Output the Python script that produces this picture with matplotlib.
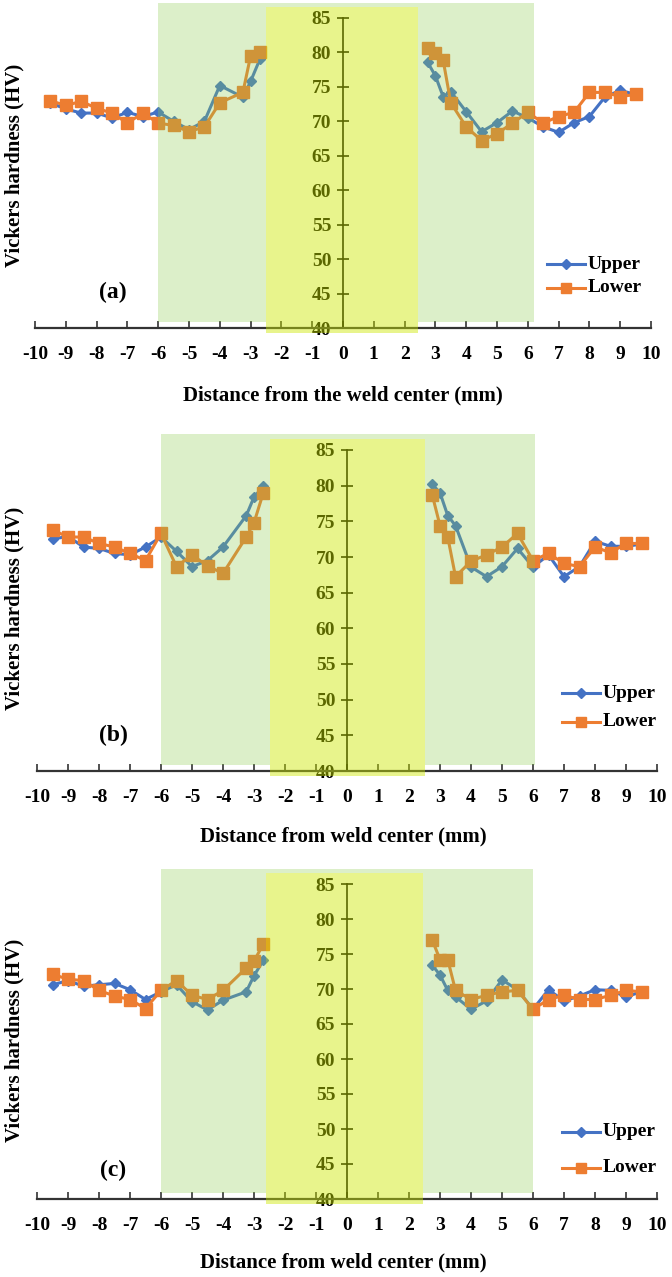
import matplotlib
matplotlib.use("Agg")
import matplotlib.pyplot as plt
from matplotlib.patches import Rectangle
from matplotlib.lines import Line2D

# ---------------- data ----------------
x_left = [-9.5, -9, -8.5, -8, -7.5, -7, -6.5, -6, -5.5, -5, -4.5, -4, -3.25, -3, -2.7]
x_right = [2.75, 3, 3.25, 3.5, 4, 4.5, 5, 5.5, 6, 6.5, 7, 7.5, 8, 8.5, 9, 9.5]

a_upper_left = [72.65, 71.8, 71.2, 71.2, 70.5, 71.3, 70.7, 71.35, 70.0, 68.8, 70.0, 75.2, 73.5, 75.8, 79.0]
a_lower_left = [73.0, 72.3, 72.9, 71.9, 71.2, 69.75, 71.2, 69.75, 69.4, 68.5, 69.2, 72.7, 74.2, 79.5, 80.1]
a_upper_right = [78.55, 76.6, 73.6, 74.3, 71.4, 68.5, 69.8, 71.5, 70.5, 69.2, 68.4, 69.8, 70.7, 73.5, 74.5, 73.9]
a_lower_right = [80.6, 79.9, 78.9, 72.7, 69.2, 67.2, 68.2, 69.75, 71.3, 69.75, 70.7, 71.3, 74.2, 74.2, 73.6, 73.9]

b_upper_left = [72.5, 72.9, 71.4, 71.2, 70.5, 70.3, 71.4, 72.8, 70.8, 68.65, 69.5, 71.4, 75.8, 78.4, 79.9]
b_lower_left = [73.8, 72.8, 72.8, 71.9, 71.4, 70.5, 69.5, 73.3, 68.65, 70.3, 68.75, 67.7, 72.8, 74.8, 79.0]
b_upper_right = [80.2, 79.0, 75.8, 74.4, 68.6, 67.25, 68.65, 71.2, 68.6, 70.3, 67.25, 68.65, 72.2, 71.5, 71.5, 71.8]
b_lower_right = [78.7, 74.4, 72.8, 67.25, 69.4, 70.3, 71.4, 73.3, 69.5, 70.5, 69.1, 68.65, 71.4, 70.6, 71.9, 71.9]

c_upper_left = [70.6, 71.2, 70.4, 70.6, 70.8, 69.9, 68.5, 69.6, 70.6, 68.2, 67.0, 68.4, 69.6, 71.9, 74.1]
c_lower_left = [72.1, 71.4, 71.2, 69.8, 69.0, 68.5, 67.2, 69.8, 71.2, 69.1, 68.5, 69.8, 73.0, 74.0, 76.4]
c_upper_right = [73.4, 72.0, 69.8, 68.9, 67.1, 68.3, 71.3, 69.9, 67.1, 69.9, 68.3, 69.0, 69.9, 69.8, 68.9, 69.6]
c_lower_right = [77.0, 74.2, 74.2, 69.8, 68.5, 69.1, 69.6, 69.8, 67.1, 68.5, 69.1, 68.5, 68.5, 69.1, 69.8, 69.6]

x_ticks = list(range(-10, 11))
y_ticks = list(range(40, 90, 5))
series_names = ["Upper", "Lower"]
panel_labels = ["(a)", "(b)", "(c)"]
x_titles = ["Distance from the weld center (mm)",
            "Distance from weld center (mm)",
            "Distance from weld center (mm)"]
y_title = "Vickers hardness (HV)"

# ---------------- style ----------------
W, H = 672, 1277
fig = plt.figure(figsize=(W / 100, H / 100), dpi=100)
SERIF = ['Liberation Serif', 'DejaVu Serif']
BLUE = '#4472C4'
ORANGE = '#ED7D31'


def fx(px):
    return px / W


def fy(py):
    return 1 - py / H


# panel geometry in pixels: (x px of -10, x px of 10, y px of 85, y px of 40)
geoms = [(35, 651, 18, 328), (37, 657, 450, 771), (37, 657, 884, 1199)]
panels = [
    (a_upper_left, a_lower_left, a_upper_right, a_lower_right),
    (b_upper_left, b_lower_left, b_upper_right, b_lower_right),
    (c_upper_left, c_lower_left, c_upper_right, c_lower_right),
]
green_spans = [(-6.0, 6.2), (-6.0, 6.05), (-6.0, 6.0)]
yellow_spans = [(-2.5, 2.43), (-2.5, 2.5), (-2.6, 2.45)]
# text positions (px)
panel_lab_pos = [(113, 292), (113, 735), (113, 1170)]
legend_pos = [(585, 264, 24), (600, 693, 29), (600, 1132, 36)]
xtitle_pos = [395, 836, 1262]
ytitle_pos = [165, 608, 1040]

for i, (g, data) in enumerate(zip(geoms, panels)):
    x0, x1, yt, yb = g
    ax = fig.add_axes([fx(x0), fy(yb), fx(x1 - x0), (yb - yt) / H])
    ax.set_xlim(-10, 10)
    ax.set_ylim(40, 85)
    ax.patch.set_alpha(0)

    ul, ll, ur, lr = data
    ax.plot(x_left, ul, color=BLUE, lw=2.2, marker='D', ms=5.5, zorder=3, clip_on=False)
    ax.plot(x_right, ur, color=BLUE, lw=2.2, marker='D', ms=5.5, zorder=3, clip_on=False)
    ax.plot(x_left, ll, color=ORANGE, lw=2.2, marker='s', ms=8, zorder=4, clip_on=False)
    ax.plot(x_right, lr, color=ORANGE, lw=2.2, marker='s', ms=8, zorder=4, clip_on=False)

    g0, g1 = green_spans[i]
    y0_, y1_ = yellow_spans[i]
    gcol = (0.55, 0.80, 0.30)
    galpha = 0.30
    # green band drawn over the lines (it tints the markers), excluding the yellow band
    ax.add_patch(Rectangle((g0, 40.8), y0_ - g0, 87.2 - 40.8, facecolor=gcol, alpha=galpha,
                           edgecolor='none', zorder=6, clip_on=False))
    ax.add_patch(Rectangle((y1_, 40.8), g1 - y1_, 87.2 - 40.8, facecolor=gcol, alpha=galpha,
                           edgecolor='none', zorder=6, clip_on=False))
    ax.add_patch(Rectangle((y0_, 86.6), y1_ - y0_, 87.2 - 86.6, facecolor=gcol, alpha=galpha,
                           edgecolor='none', zorder=6, clip_on=False))
    # yellow band on top of everything (tints the central axis and its labels)
    ax.add_patch(Rectangle((y0_, 39.3), y1_ - y0_, 86.6 - 39.3, facecolor=(0.80, 0.906, 0.0),
                           alpha=0.45, edgecolor='none', zorder=10, clip_on=False))

    for s in ['top', 'right']:
        ax.spines[s].set_visible(False)
    ax.spines['left'].set_position(('data', 0))
    ax.spines['left'].set_bounds(40, 85)
    ax.spines['left'].set_color('black')
    ax.spines['left'].set_linewidth(1.2)
    ax.spines['bottom'].set_color('#333333')
    ax.spines['bottom'].set_linewidth(1.6)

    ax.set_xticks(x_ticks)
    ax.set_yticks(y_ticks)
    ax.set_xticklabels([str(t) for t in x_ticks], fontfamily=SERIF, fontweight='bold', fontsize=14)
    ax.set_yticklabels([str(t) for t in y_ticks], fontfamily=SERIF, fontweight='bold', fontsize=14)
    ax.tick_params(axis='x', direction='in', length=5, width=1.2, color='#333333', pad=13)
    ax.tick_params(axis='y', direction='inout', length=9, width=1.2, color='black', pad=4)

    px, py = panel_lab_pos[i]
    fig.text(fx(px), fy(py), panel_labels[i], fontfamily=SERIF, fontweight='bold',
             fontsize=17, ha='center', va='center')
    fig.text(fx(343), fy(xtitle_pos[i]), x_titles[i], fontfamily=SERIF, fontweight='bold',
             fontsize=15, ha='center', va='center')
    fig.text(fx(14), fy(ytitle_pos[i]), y_title, fontfamily=SERIF, fontweight='bold',
             fontsize=15, ha='center', va='center', rotation=90)

    lx, ly, gap = legend_pos[i]
    for k, (name, col, mk, ms) in enumerate([(series_names[0], BLUE, 'D', 5),
                                              (series_names[1], ORANGE, 's', 7.5)]):
        yy = ly + k * gap
        fig.add_artist(Line2D([fx(lx - 38), fx(lx)], [fy(yy), fy(yy)], color=col, lw=2.2))
        fig.add_artist(Line2D([fx(lx - 19)], [fy(yy)], color=col, marker=mk, ms=ms, lw=0))
        fig.text(fx(lx + 3), fy(yy), name, fontfamily=SERIF, fontweight='bold',
                 fontsize=14, ha='left', va='center')

fig.savefig('out.png', dpi=100)
